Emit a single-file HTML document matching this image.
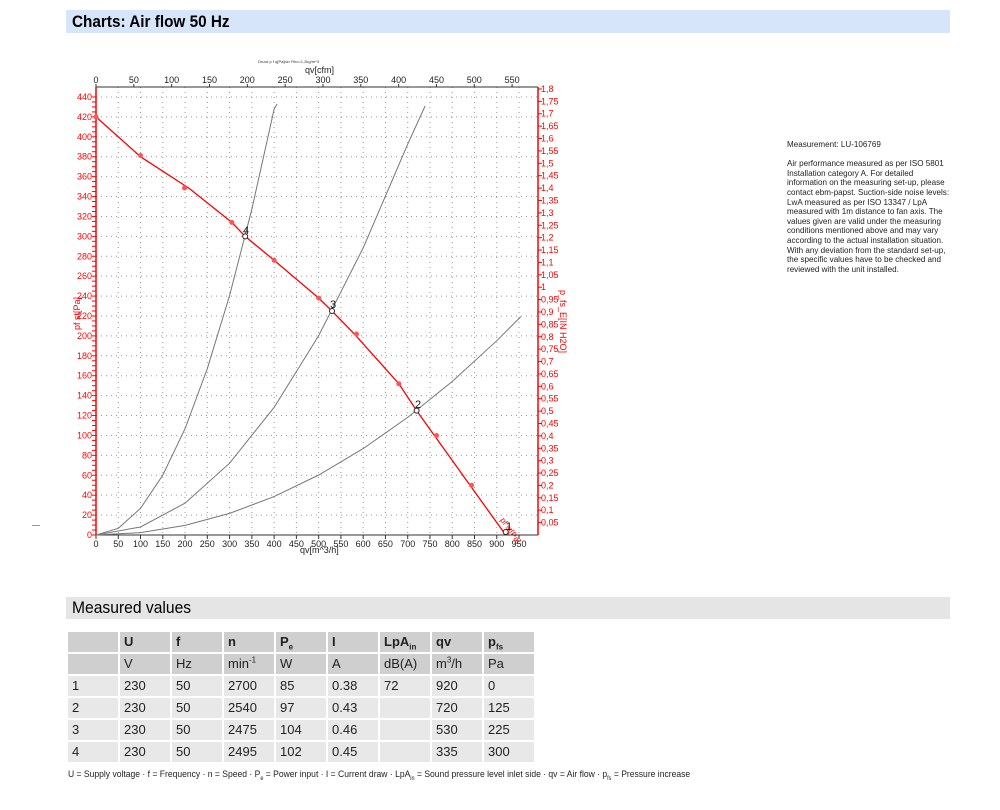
<!DOCTYPE html>
<html><head><meta charset="utf-8"><style>
body{margin:0;width:1000px;height:810px;background:#fff;font-family:"Liberation Sans",sans-serif;position:relative;overflow:hidden}
.bar{position:absolute;left:66px;width:884px}
.t{position:absolute;left:66px;top:630px;border-collapse:separate;border-spacing:2px 2px;font-size:13px;color:#222}
.t td{width:46px;height:20px;line-height:20px;padding:0 0 0 4px;background:#e8e8e8;overflow:hidden;white-space:nowrap}
.t tr.h td{background:#cfcfcf}
.t tr.h1 td{font-weight:bold}
.t sub,.t sup{font-size:8px;line-height:0}
</style></head><body>
<div class="bar" style="top:10px;height:23px;background:#d7e5fb;font-weight:bold;font-size:17px;line-height:23px;padding-left:6px;box-sizing:border-box"><span style="display:inline-block;transform:scaleX(0.9);transform-origin:left">Charts: Air flow 50 Hz</span></div>
<div class="bar" style="top:597px;height:22px;background:#e5e5e5;font-size:17px;line-height:22px;padding-left:6px;box-sizing:border-box"><span style="display:inline-block;transform:scaleX(0.92);transform-origin:left">Measured values</span></div>
<div style="position:absolute;left:787px;top:140px;width:175px;font-size:8.6px;line-height:9.6px;color:#222;transform:scaleX(0.94);transform-origin:left">Measurement: LU-106769<br><br>Air performance measured as per ISO 5801 Installation category A. For detailed information on the measuring set-up, please contact ebm-papst. Suction-side noise levels: LwA measured as per ISO 13347 / LpA measured with 1m distance to fan axis. The values given are valid under the measuring conditions mentioned above and may vary according to the actual installation situation. With any deviation from the standard set-up, the specific values have to be checked and reviewed with the unit installed.</div>
<div style="position:absolute;left:32px;top:525px;width:8px;border-top:1px solid #999"></div>
<svg width="1000" height="600" style="position:absolute;left:0;top:0" font-family="Liberation Sans,sans-serif">
<g stroke="#999" stroke-dasharray="1,4" stroke-width="1" id="grid"></g>
<g id="ax"></g>
<text x="258" y="63" font-size="4" fill="#333">Druck p f q[Pa]bzr Rho=1,2kg/m^3</text>
<text x="305" y="73" font-size="9" fill="#222">qv[cfm]</text>
<text x="300" y="553" font-size="9" fill="#222">qv[m^3/h]</text>
<text x="0" y="0" font-size="9" fill="red" transform="translate(80,330) rotate(-90)">pf st[Pa]</text>
<text x="0" y="0" font-size="9" fill="red" transform="translate(560,290) rotate(90)">p_fs_E[IN H2O]</text>
<g fill="none" stroke="#777" stroke-width="1">
<polyline points="96,535 118.3,528.3 140.5,508.4 162.8,475.1 185.1,428.6 207.3,368.7 229.6,295.5 251.9,209 274.1,109.3 277,104"/>
<polyline points="96,535 140.5,527 185.1,503.1 229.6,463.2 274.1,407.4 318.7,335.6 363.2,247.9 407.7,144.2 425.1,106"/>
<polyline points="96,535 140.5,532.6 185.1,525.4 229.6,513.4 274.1,496.6 318.7,475 363.2,448.6 407.7,417.4 452.2,381.5 496.8,340.7 520.8,316.6"/>
</g>
<polyline fill="none" stroke="red" stroke-width="1.3" points="96,116.9 140.5,156.7 189.5,188.6 231.8,222.4 245.2,236.4 274.1,260.2 318.7,298.1 332,311 354.3,333.9 398.8,383.7 416.6,410.6 434.4,435.5 470,485.2 505.7,535"/>
<g fill="#f55"><circle cx="96" cy="116.9" r="2.5"/><circle cx="140.5" cy="155.5" r="2.5"/><circle cx="184.5" cy="188" r="2.5"/><circle cx="231.8" cy="222.4" r="2.5"/><circle cx="274.1" cy="260.2" r="2.5"/><circle cx="318.7" cy="298.1" r="2.5"/><circle cx="356.5" cy="334" r="2.5"/><circle cx="398.8" cy="383.7" r="2.5"/><circle cx="436.5" cy="435.5" r="2.5"/><circle cx="471.5" cy="485.2" r="2.5"/></g>
<g fill="#fff" stroke="#222"><circle cx="245.2" cy="236.4" r="2.5"/><circle cx="332" cy="311" r="2.5"/><circle cx="416.6" cy="410.6" r="2.5"/><circle cx="505.7" cy="532" r="2.5"/></g>
<g font-size="11" fill="#111"><text x="243" y="234">4</text><text x="330" y="308">3</text><text x="415" y="408">2</text><text x="506" y="530">1</text></g>
<text x="0" y="0" font-size="8" fill="red" transform="translate(500,520) rotate(55)">pf st[Pa]</text>
</svg>
<script>
const ns="http://www.w3.org/2000/svg";
const g=document.getElementById('grid'),ax=document.getElementById('ax');
function el(p,tag,a,txt){const e=document.createElementNS(ns,tag);for(const k in a)e.setAttribute(k,a[k]);if(txt!==undefined)e.textContent=txt;p.appendChild(e);return e;}
const X=q=>96+q*0.4453, Y=p=>535-p*0.9955;
for(let q=50;q<=950;q+=50){el(g,'line',{x1:X(q),x2:X(q),y1:87,y2:535});}
for(let p=20;p<=440;p+=20){el(g,'line',{x1:96,x2:538,y1:Y(p),y2:Y(p)});}
el(ax,'line',{x1:96,x2:538,y1:535,y2:535,stroke:'#333'});
el(ax,'line',{x1:96,x2:538,y1:87,y2:87,stroke:'#333'});
el(ax,'line',{x1:96,x2:96,y1:87,y2:535,stroke:'red','stroke-width':1.5});
el(ax,'line',{x1:538,x2:538,y1:87,y2:535,stroke:'red','stroke-width':1.5});
for(let q=0;q<=950;q+=50){el(ax,'text',{x:X(q),y:547,'font-size':9,'text-anchor':'middle',fill:'#222'},q);el(ax,'line',{x1:X(q),x2:X(q),y1:535,y2:539,stroke:'#333'});}
for(let c=0;c<=550;c+=50){const x=96+c*1.699*0.4453;el(ax,'text',{x:x,y:83,'font-size':9,'text-anchor':'middle',fill:'#222'},c);el(ax,'line',{x1:x,x2:x,y1:87,y2:84,stroke:'#333'});}
for(let p=0;p<=440;p+=20){el(ax,'text',{x:92,y:Y(p)+3,'font-size':9,'text-anchor':'end',fill:'red'},p);}
for(let p=0;p<=440;p+=5){el(ax,'line',{x1:92,x2:96,y1:Y(p),y2:Y(p),stroke:'red'});}
for(let i=1;i<=36;i++){const v=i*0.05,y=535-i*12.39;el(ax,'line',{x1:538,x2:542,y1:y,y2:y,stroke:'red'});el(ax,'text',{x:541,y:y+3,'font-size':9,fill:'red'},(Math.round(v*100)/100).toString().replace('.',','));}
</script>
<table class="t">
<tr class="h h1"><td></td><td>U</td><td>f</td><td>n</td><td>P<sub>e</sub></td><td>I</td><td>LpA<sub>in</sub></td><td>qv</td><td>p<sub>fs</sub></td></tr>
<tr class="h"><td></td><td>V</td><td>Hz</td><td>min<sup>-1</sup></td><td>W</td><td>A</td><td>dB(A)</td><td>m<sup>3</sup>/h</td><td>Pa</td></tr>
<tr><td>1</td><td>230</td><td>50</td><td>2700</td><td>85</td><td>0.38</td><td>72</td><td>920</td><td>0</td></tr>
<tr><td>2</td><td>230</td><td>50</td><td>2540</td><td>97</td><td>0.43</td><td></td><td>720</td><td>125</td></tr>
<tr><td>3</td><td>230</td><td>50</td><td>2475</td><td>104</td><td>0.46</td><td></td><td>530</td><td>225</td></tr>
<tr><td>4</td><td>230</td><td>50</td><td>2495</td><td>102</td><td>0.45</td><td></td><td>335</td><td>300</td></tr>
</table>
<div style="position:absolute;left:68px;top:769px;font-size:9.3px;color:#222;transform:scaleX(0.92);transform-origin:left">U = Supply voltage · f = Frequency · n = Speed · P<sub style="font-size:6px">e</sub> = Power input · I = Current draw · LpA<sub style="font-size:6px">in</sub> = Sound pressure level inlet side · qv = Air flow · p<sub style="font-size:6px">fs</sub> = Pressure increase</div>
</body></html>
